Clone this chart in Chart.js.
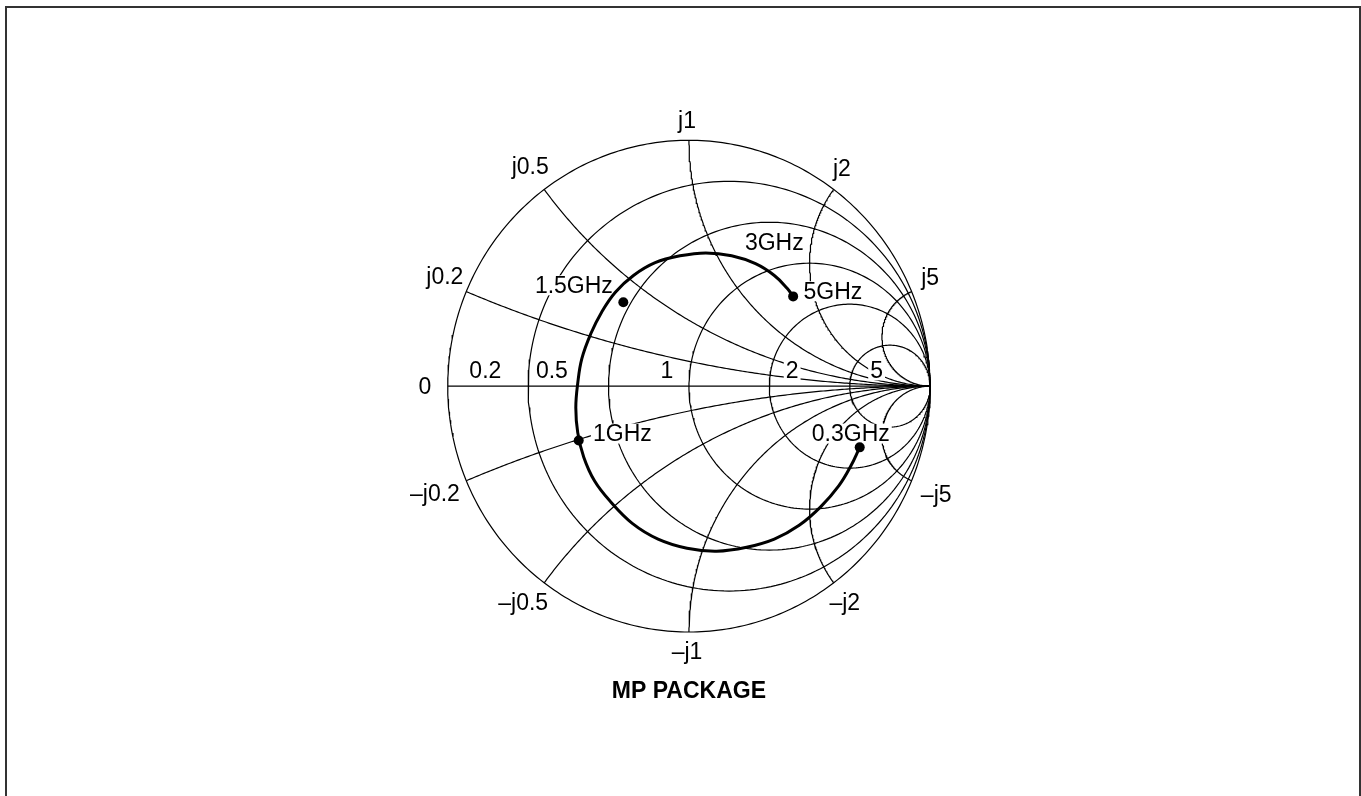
<!DOCTYPE html>
<html lang="en">
<head>
    <meta charset="UTF-8">
    <title>MP Package - Smith chart</title>
    <script src="https://cdn.jsdelivr.net/npm/chart.js"></script>
    <style>
        html, body { margin: 0; padding: 0; background: #fff; overflow: hidden; }
        .frame {
            position: absolute; left: 5px; top: 6px;
            width: 1352px; height: 830px;
            border: 2px solid #333; pointer-events: none;
        }
        canvas { display: block; }
    </style>
</head>
<body>
    <canvas id="smith" width="1361" height="796"></canvas>
    <div class="frame"></div>

<script>
    // grid values (normalised resistance / reactance)
    const rValues = [0.2, 0.5, 1, 2, 5];
    const xValues = [0.2, 0.5, 1, 2, 5];

    // S11 trace, reflection coefficient (0.3GHz -> 5GHz)
    const gammaRe = [0.708, 0.671, 0.621, 0.547, 0.457, 0.354, 0.239, 0.115, -0.008, -0.128, -0.235, -0.325,
        -0.391, -0.436, -0.461, -0.469, -0.461, -0.444, -0.407, -0.362, -0.305, -0.230, -0.140, -0.037,
        0.070, 0.177, 0.276, 0.354, 0.407, 0.432];
    const gammaIm = [-0.249, -0.325, -0.406, -0.490, -0.566, -0.622, -0.655, -0.671, -0.659, -0.622, -0.558, -0.470,
        -0.386, -0.289, -0.189, -0.088, 0.012, 0.112, 0.213, 0.301, 0.382, 0.450, 0.502, 0.530,
        0.542, 0.530, 0.498, 0.450, 0.398, 0.365];

    // frequency markers
    const markerNames = ['0.3GHz', '1GHz', '1.5GHz', '5GHz'];
    const markerRe = [0.708, -0.457, -0.272, 0.432];
    const markerIm = [-0.249, -0.221, 0.341, 0.365];

    // text placed on the chart, in gamma coordinates
    const labels = [
        {t: '0', x: -1.095, y: -0.004},
        {t: '0.2', x: -0.844, y: 0.064},
        {t: '0.5', x: -0.568, y: 0.064},
        {t: '1', x: -0.091, y: 0.064},
        {t: '2', x: 0.428, y: 0.064, bg: true},
        {t: '5', x: 0.778, y: 0.064, bg: true},
        {t: 'j0.2', x: -1.012, y: 0.446},
        {t: 'j0.5', x: -0.658, y: 0.892},
        {t: 'j1', x: -0.008, y: 1.080},
        {t: 'j2', x: 0.634, y: 0.884},
        {t: 'j5', x: 1.000, y: 0.442},
        {t: '–j0.2', x: -1.053, y: -0.438},
        {t: '–j0.5', x: -0.687, y: -0.880},
        {t: '–j1', x: -0.008, y: -1.080},
        {t: '–j2', x: 0.646, y: -0.880},
        {t: '–j5', x: 1.025, y: -0.442},
        {t: '3GHz', x: 0.354, y: 0.582, bg: true},
        {t: '5GHz', x: 0.597, y: 0.386, bg: true},
        {t: '1.5GHz', x: -0.477, y: 0.410, bg: true},
        {t: '1GHz', x: -0.276, y: -0.193, bg: true},
        {t: '0.3GHz', x: 0.671, y: -0.193, bg: true},
        {t: 'MP PACKAGE', x: 0, y: -1.237, bold: true}
    ];

    // build grid curves
    function circlePts(cx, cy, rad, a0, a1, n) {
        const pts = [];
        for (let i = 0; i <= n; i++) {
            const a = a0 + (a1 - a0) * i / n;
            pts.push({x: cx + rad * Math.cos(a), y: cy + rad * Math.sin(a)});
        }
        return pts;
    }

    const gridSets = [];
    function gridLine(pts) {
        gridSets.push({
            data: pts, showLine: true, pointRadius: 0, borderColor: '#000',
            borderWidth: 1.2, tension: 0, fill: false
        });
    }

    // outer circle and real axis
    gridLine(circlePts(0, 0, 1, 0, 2 * Math.PI, 360));
    gridLine([{x: -1, y: 0}, {x: 1, y: 0}]);

    rValues.forEach(r => {
        gridLine(circlePts(r / (1 + r), 0, 1 / (1 + r), 0, 2 * Math.PI, 240));
    });

    xValues.forEach(x => {
        const dx = -2 / (x * x + 1);
        const dy = (x * x - 1) / (x * (x * x + 1));
        let end = Math.atan2(dy, dx);
        if (end > -Math.PI / 2) end -= 2 * Math.PI;
        const upper = circlePts(1, 1 / x, 1 / x, -Math.PI / 2, end, 200);
        gridLine(upper);
        gridLine(upper.map(p => ({x: p.x, y: -p.y})));
    });

    const labelPlugin = {
        id: 'labels',
        beforeDatasetDraw(chart, args) {
            if (args.index !== 1) return;
            const ctx = chart.ctx;
            const sx = chart.scales.x, sy = chart.scales.y;
            ctx.save();
            ctx.textAlign = 'center';
            ctx.textBaseline = 'middle';
            labels.forEach(l => {
                ctx.font = (l.bold ? 'bold ' : '') + '23px "Liberation Sans", Arial, sans-serif';
                const px = sx.getPixelForValue(l.x);
                const py = sy.getPixelForValue(l.y);
                if (l.bg) {
                    const w = ctx.measureText(l.t).width;
                    ctx.fillStyle = '#fff';
                    ctx.fillRect(px - w / 2 - 2, py - 10, w + 4, 20);
                }
                ctx.fillStyle = '#000';
                ctx.fillText(l.t, px, py + 1);
            });
            ctx.restore();
        }
    };

    const datasets = [
        {
            data: markerRe.map((v, i) => ({x: v, y: markerIm[i]})),
            showLine: false, pointRadius: 5, pointBackgroundColor: '#000',
            pointBorderColor: '#000', pointBorderWidth: 0
        },
        {
            data: gammaRe.map((v, i) => ({x: v, y: gammaIm[i]})),
            showLine: true, pointRadius: 0, borderColor: '#000',
            borderWidth: 3, tension: 0.4, fill: false
        }
    ].concat(gridSets);

    // 243 px per unit horizontally, 249 px per unit vertically, centre at (689, 386)
    new Chart(document.getElementById('smith'), {
        type: 'scatter',
        data: {datasets: datasets},
        options: {
            responsive: false,
            animation: false,
            layout: {padding: 0},
            scales: {
                x: {type: 'linear', display: false, min: -689 / 243, max: (1361 - 689) / 243},
                y: {type: 'linear', display: false, min: -(796 - 386) / 249, max: 386 / 249}
            },
            plugins: {
                legend: {display: false},
                tooltip: {enabled: false}
            }
        },
        plugins: [labelPlugin]
    });
</script>
</body>
</html>
